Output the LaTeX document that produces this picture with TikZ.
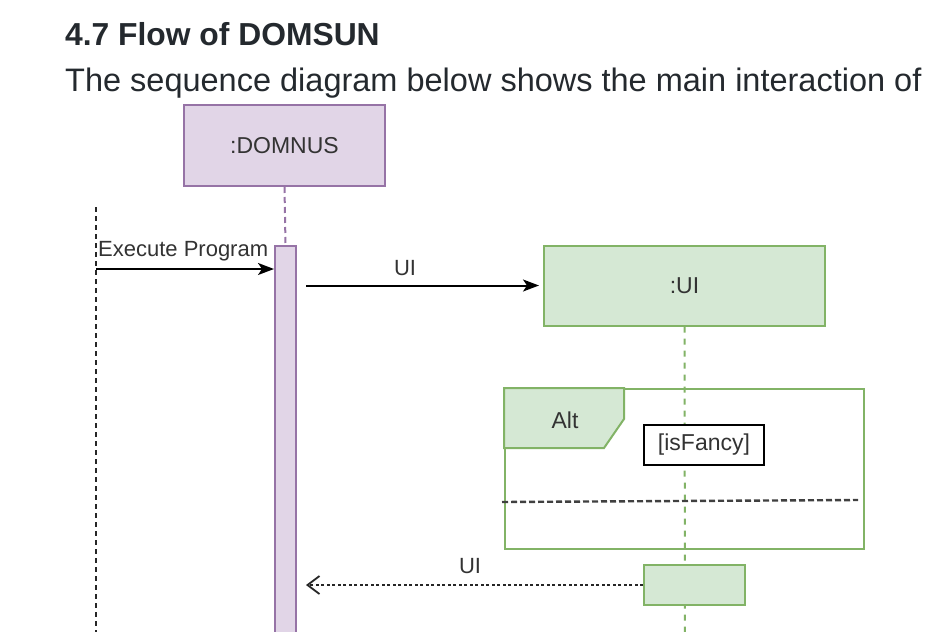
\documentclass[tikz,border=0pt]{standalone}
\usepackage{fontspec}
\setmainfont{Liberation Sans}
\usetikzlibrary{arrows.meta,calc}
\definecolor{purfill}{HTML}{E1D5E7}
\definecolor{purline}{HTML}{9673A6}
\definecolor{grnfill}{HTML}{D5E8D4}
\definecolor{grnline}{HTML}{82B366}
\definecolor{headtxt}{HTML}{24292E}
\definecolor{dtxt}{HTML}{333333}
\tikzset{
  purbox/.style={draw=purline, fill=purfill, line width=2pt, inner sep=0pt, text=dtxt},
  grnbox/.style={draw=grnline, fill=grnfill, line width=2pt, inner sep=0pt, text=dtxt},
  dlabel/.style={font=\fontsize{22}{24}\selectfont, text=dtxt, inner sep=0pt},
  msg/.style={draw=black, line width=2pt, -{Stealth[length=16pt,width=12pt,inset=4pt]}},
  retmsg/.style={draw=black!85, line width=1.8pt, dash pattern=on 3pt off 2.5pt, -{Straight Barb[length=12pt,width=18pt,line width=1.8pt]}},
}
\begin{document}
\begin{tikzpicture}[x=1pt,y=-1pt]
\clip (0,0) rectangle (930,632);
\fill[white] (0,0) rectangle (930,632);
% heading text
\node[anchor=base west, inner sep=0pt, text=headtxt, font=\fontsize{31.8}{33}\selectfont\bfseries] (h1) at (65,45) {4.7 Flow of DOMSUN};
\node[anchor=base west, inner sep=0pt, text=headtxt, font=\fontsize{32.5}{34}\selectfont] (h2) at (65,91) {The sequence diagram below shows the main interaction of};
% left dashed actor line
\coordinate (leftTop) at (96,207);
\coordinate (leftBot) at (96,640);
\draw[black!85, line width=2pt, dash pattern=on 5pt off 4pt] (leftTop) -- (leftBot);
% DOMNUS
\node[purbox, minimum width=201pt, minimum height=81pt, font=\fontsize{23}{25}\selectfont] (domnus) at (284.5,145.5) {:DOMNUS};
\node[purbox, minimum width=21pt, minimum height=400pt, anchor=north] (act) at (285.5,245) {};
\draw[purline, line width=2pt, dash pattern=on 6pt off 4pt] (domnus.south) -- (act.north);
% Execute Program
\coordinate (ep) at (96,269);
\draw[msg] (ep) -- (ep -| act.west);
\node[dlabel, anchor=south west] (eplbl) at (98,261) {Execute Program};
% UI object
\node[grnbox, minimum width=281pt, minimum height=80pt, font=\fontsize{23}{25}\selectfont] (ui) at (684.5,285.5) {:UI};
\draw[msg, shorten <=9pt, shorten >=4pt] (act.east |- ui) -- (ui.west);
\node[dlabel] (uilbl1) at (405,268) {UI};
% UI lifeline
\coordinate (uiBot) at (685,640);
\draw[grnline, line width=2pt, dash pattern=on 6pt off 6pt] (ui.south) -- (uiBot);
% Alt frame
\node[draw=grnline, line width=2pt, minimum width=359pt, minimum height=160pt, inner sep=0pt] (alt) at (684.5,469) {};
\fill[grnfill, draw=grnline, line width=2pt] (alt.north west) -- ++(120,0) -- ++(0,31) -- ++(-20,29) -- ($(alt.north west)+(0,60)$) -- cycle;
\node[dlabel, font=\fontsize{23}{25}\selectfont] (altlbl) at (565,420) {Alt};
\node[draw=black, fill=white, line width=2pt, minimum width=120pt, minimum height=40pt, inner sep=0pt, font=\fontsize{23}{25}\selectfont, text=dtxt] (cond) at (704,445) {[isFancy]};
\coordinate (sepL) at (502,502);
\coordinate (sepR) at (858,500);
\draw[black!75, line width=2.4pt, dash pattern=on 6pt off 3pt] (sepL) -- (sepR);
% return
\node[grnbox, minimum width=101pt, minimum height=40pt] (ret) at (694.5,585) {};
\draw[retmsg, shorten >=9pt] (ret.west) -- (ret.west -| act.east);
\node[dlabel] (uilbl2) at (470,566) {UI};
\end{tikzpicture}
\end{document}
